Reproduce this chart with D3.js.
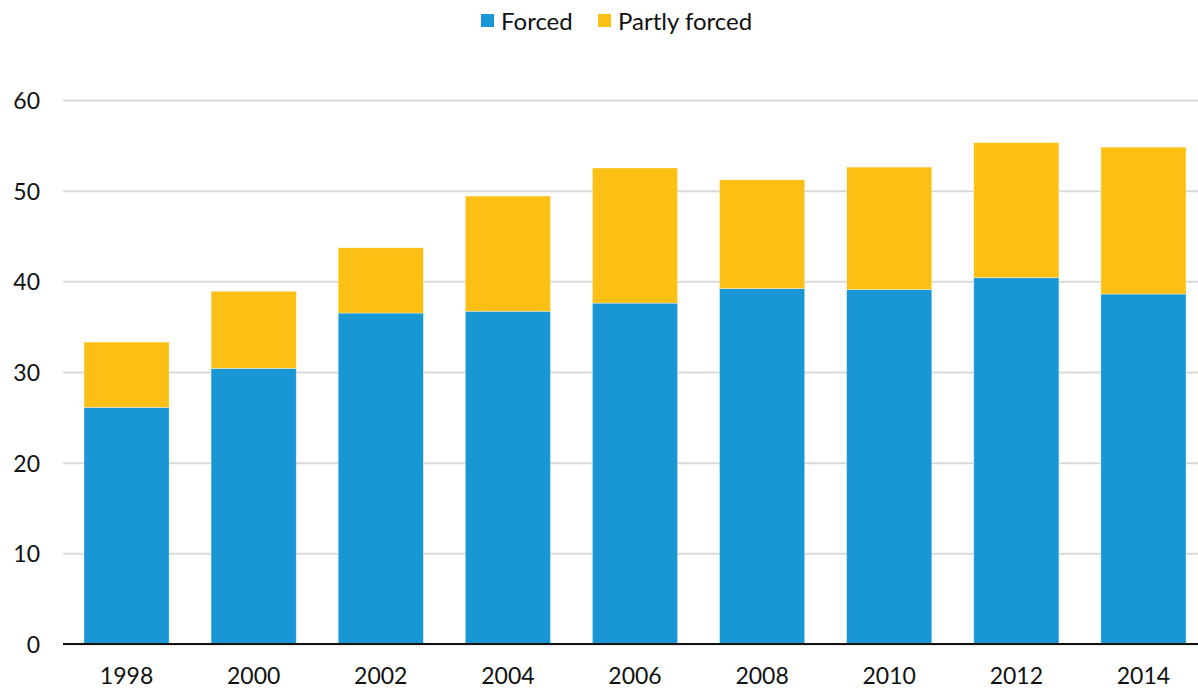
<!DOCTYPE html>
<html>
<head>
<meta charset="utf-8">
<script src="https://cdn.jsdelivr.net/npm/d3@7/dist/d3.min.js"></script>
<style>
  html, body { margin: 0; padding: 0; background: #fff; }
  svg { display: block; font-family: Lato, "Open Sans", sans-serif; }
</style>
</head>
<body>
<svg id="chart" width="1198" height="690"></svg>
<script>
// Survey years
const years = ["1998", "2000", "2002", "2004", "2006", "2008", "2010", "2012", "2014"];
// Share of forced stays
const forced = [26.1, 30.4, 36.5, 36.7, 37.6, 39.2, 39.1, 40.4, 38.6];
// Share of partly forced stays (stacked on top)
const partlyForced = [7.2, 8.5, 7.2, 12.7, 14.9, 12.0, 13.5, 14.9, 16.2];
const seriesNames = ["Forced", "Partly forced"];
const seriesColors = ["#1996d4", "#fcbf14"];
const yTicks = [0, 10, 20, 30, 40, 50, 60];

const svg = d3.select("#chart");
const margin = { left: 63, right: -9, top: 100, bottom: 46 };
const W = 1198, H = 690;
const fontSize = 23;

const rows = years.map((y, i) => ({ year: y, "Forced": forced[i], "Partly forced": partlyForced[i] }));
const stacked = d3.stack().keys(seriesNames)(rows);

const x = d3.scaleBand()
  .domain(years)
  .range([margin.left, W - margin.right])
  .paddingInner(0.33)
  .paddingOuter(0.165);

const y = d3.scaleLinear()
  .domain([0, 60])
  .range([H - margin.bottom, margin.top]);

// Gridlines and y tick labels
const yAxis = svg.append("g")
  .attr("transform", `translate(${margin.left},0)`)
  .call(d3.axisLeft(y).tickValues(yTicks).tickSize(-(W - margin.left)).tickPadding(23));
yAxis.select(".domain").remove();
yAxis.selectAll(".tick line").attr("stroke", "#d9d9d9").attr("stroke-width", 2);
yAxis.selectAll(".tick text")
  .attr("fill", "#111").attr("font-size", fontSize).attr("font-family", "Lato, sans-serif")
  .attr("dy", "0.37em");

// Stacked bars
svg.append("g").selectAll("g")
  .data(stacked)
  .join("g")
  .attr("fill", (d, i) => seriesColors[i])
  .selectAll("rect")
  .data(d => d)
  .join("rect")
  .attr("x", d => x(d.data.year))
  .attr("width", x.bandwidth())
  .attr("y", d => y(d[1]))
  .attr("height", d => y(d[0]) - y(d[1]))
  .attr("stroke", "rgba(255,255,255,0.45)")
  .attr("stroke-width", 0.8);

// Baseline and x labels
const xAxis = svg.append("g")
  .attr("transform", `translate(0,${y(0)})`)
  .call(d3.axisBottom(x).tickSize(0).tickPadding(0));
xAxis.select(".domain").remove();
xAxis.selectAll(".tick text")
  .attr("fill", "#111").attr("font-size", fontSize).attr("font-family", "Lato, sans-serif")
  .attr("y", 40).attr("dy", 0);
svg.append("line")
  .attr("x1", margin.left).attr("x2", W)
  .attr("y1", y(0)).attr("y2", y(0))
  .attr("stroke", "#111").attr("stroke-width", 2);

// Legend
const legendItems = [
  { name: seriesNames[0], color: seriesColors[0], x: 481 },
  { name: seriesNames[1], color: seriesColors[1], x: 598 }
];
const legend = svg.append("g");
legendItems.forEach(it => {
  legend.append("rect")
    .attr("x", it.x).attr("y", 14).attr("width", 13).attr("height", 13)
    .attr("fill", it.color);
  legend.append("text")
    .attr("x", it.x + 20).attr("y", 30)
    .attr("font-size", 24).attr("fill", "#111")
    .text(it.name);
});
</script>
</body>
</html>
